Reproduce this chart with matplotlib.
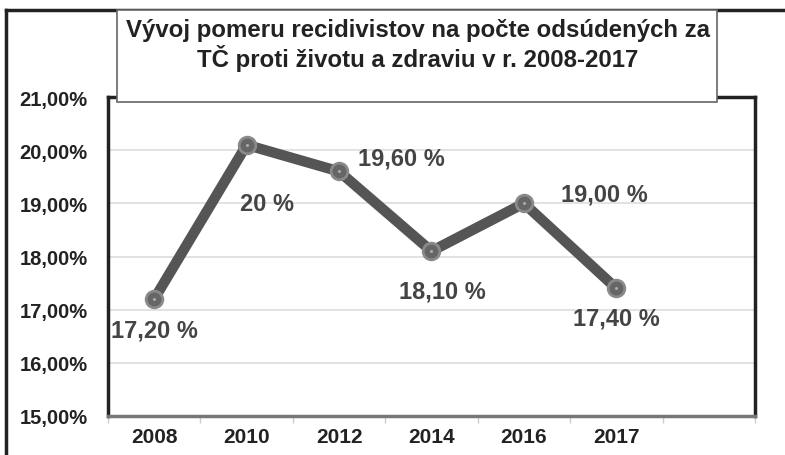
import matplotlib.pyplot as plt
from matplotlib.patches import Rectangle
from matplotlib.lines import Line2D
import numpy as np

plt.rcParams["font.family"] = ["Liberation Sans", "DejaVu Sans"]

# chart data
years = ["2008", "2010", "2012", "2014", "2016", "2017"]
shares = [17.2, 20.1, 19.6, 18.1, 19.0, 17.4]
valueLabels = ["17,20 %", "20 %", "19,60 %", "18,10 %", "19,00 %", "17,40 %"]
yTicks = [15, 16, 17, 18, 19, 20, 21]
yTickLabels = ["15,00%", "16,00%", "17,00%", "18,00%", "19,00%", "20,00%", "21,00%"]
titleLines = ["Vývoj pomeru recidivistov na počte odsúdených za",
              "TČ proti životu a zdraviu v r. 2008-2017"]

W, H = 785, 456
fig = plt.figure(figsize=(W / 100, H / 100), dpi=100)
fig.patch.set_facecolor("white")

# outer frame (only left and top are visible)
fig.add_artist(Line2D([6 / W, 6 / W], [0, 1 - 11 / H], transform=fig.transFigure,
                      color="#222222", lw=2.5, zorder=1))
fig.add_artist(Line2D([6 / W, 1], [1 - 11 / H, 1 - 11 / H], transform=fig.transFigure,
                      color="#222222", lw=2.5, zorder=1))

ax = fig.add_axes([108 / W, 1 - 417 / H, (755 - 108) / W, (417 - 98) / H])
x = np.arange(len(years))
nSlots = len(years) + 1  # the category axis has one empty slot at the end

ax.plot(x, shares, color="#555555", lw=7.5, solid_capstyle="round", zorder=3)
ax.plot(x, shares, linestyle="none", marker="o", markersize=12,
        markerfacecolor="#666666", markeredgecolor="#8a8a8a", markeredgewidth=2, zorder=4)
ax.plot(x, shares, linestyle="none", marker="o", markersize=2.2,
        markerfacecolor="#aaaaaa", markeredgecolor="none", zorder=5)

# label offsets in points, relative to each marker
offsets = [(0, -22), (15, -42), (45, 10), (8, -29), (58, 7), (0, -21)]
for i, (v, lab) in enumerate(zip(shares, valueLabels)):
    ax.annotate(lab, (x[i], v), xytext=offsets[i], textcoords="offset points",
                ha="center", va="center", fontsize=17, fontweight="bold",
                color="#444444", zorder=6)

ax.set_xlim(-0.5, nSlots - 0.5)
ax.set_ylim(15, 21)
ax.set_yticks(yTicks)
ax.set_yticklabels(yTickLabels, fontsize=14.5, fontweight="bold", color="#222222")
ax.set_xticks(x)
ax.set_xticklabels(years, fontsize=15, fontweight="bold", color="#222222")
ax.set_xticks(np.arange(nSlots + 1) - 0.5, minor=True)
ax.tick_params(axis="x", which="major", length=0, pad=8)
ax.tick_params(axis="x", which="minor", length=5, color="#cccccc", width=1)
ax.tick_params(axis="y", length=0, pad=14.5)

ax.grid(axis="y", color="#dddddd", lw=1.2, zorder=0)
ax.set_axisbelow(True)
for side in ["left", "top", "right"]:
    ax.spines[side].set_color("#222222")
    ax.spines[side].set_linewidth(2.5)
ax.spines["bottom"].set_color("#777777")
ax.spines["bottom"].set_linewidth(2.5)

# title box sits on top of the plot frame
fig.add_artist(Rectangle((117 / W, 1 - 103 / H), (717 - 117) / W, (103 - 11) / H,
                         transform=fig.transFigure, facecolor="white",
                         edgecolor="#666666", lw=1.2, zorder=10))
for k, line in enumerate(titleLines):
    fig.text(418 / W, 1 - (31 + 28 * k) / H, line, ha="center", va="center",
             fontsize=17.3, fontweight="bold", color="#222222", zorder=11)

fig.savefig("out.png", dpi=100, facecolor="white")
